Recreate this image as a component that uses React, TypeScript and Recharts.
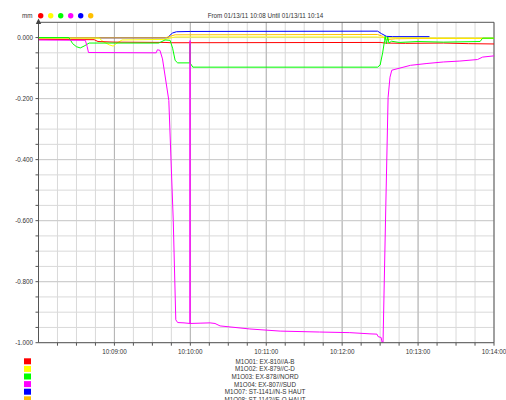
import React from 'react';
import { LineChart, Line, XAxis, YAxis, CartesianGrid, ReferenceLine } from 'recharts';

const TITLE = 'From 01/13/11 10:08 Until 01/13/11 10:14';
const UNIT = 'mm';

const SERIES_NAMES = [
  'M1O01: EX-810//A-B',
  'M1O02: EX-879//C-D',
  'M1O03: EX-878//NORD',
  'M1O04: EX-807//SUD',
  'M1O07: ST-1141//N-S HAUT',
  'M1O08: ST-1142//E-O HAUT',
];
const SERIES_COLORS = ['#ff0000', '#ffff00', '#00ff00', '#ff00ff', '#0000ff', '#ffc000'];

// time in seconds after 10:08:00
const T_RED = [0, 44, 47, 60, 100, 105, 270, 274, 290, 320, 340, 360];
const V_RED = [-0.006, -0.007, -0.013, -0.015, -0.016, -0.017, -0.016, -0.018, -0.019, -0.018, -0.02, -0.021];

const T_YELLOW = [0, 48, 51, 56, 59, 62, 66, 100, 104, 108, 268, 274, 360];
const V_YELLOW = [-0.002, -0.002, -0.013, -0.024, -0.028, -0.018, -0.008, -0.006, -0.002, 0.002, 0.002, -0.001, -0.002];

const T_GREEN = [0, 24, 27, 30, 33, 36, 40, 95, 100, 104, 106, 108, 110, 119.74, 119.76, 119.78, 122, 268, 270, 272, 273.5, 274, 275, 276, 277, 279, 285, 300, 320, 349, 351, 360];
const V_GREEN = [0, 0, -0.02, -0.03, -0.034, -0.028, -0.018, -0.018, -0.008, -0.009, -0.035, -0.075, -0.083, -0.083, -0.02, -0.083, -0.097, -0.097, -0.09, -0.05, -0.01, 0.005, -0.02, 0.002, -0.018, -0.012, -0.016, -0.013, -0.015, -0.013, -0.002, -0.002];

const T_MAGENTA = [0, 37, 38.5, 39.5, 93, 94, 96, 98, 103, 106.5, 108.5, 110, 115, 119.74, 119.76, 119.78, 127.7, 135.6, 139.5, 143.5, 167, 191, 222, 246, 262, 267.5, 268.4, 270.8, 271.5, 272.3, 274.5, 276.3, 277.8, 279.2, 281, 294, 307, 320, 333, 347, 351, 360];
const V_MAGENTA = [-0.008, -0.009, -0.03, -0.049, -0.05, -0.04, -0.042, -0.07, -0.206, -0.6, -0.925, -0.934, -0.935, -0.937, -0.01, -0.937, -0.936, -0.935, -0.937, -0.945, -0.955, -0.962, -0.965, -0.967, -0.971, -0.972, -0.98, -0.983, -0.998, -0.998, -0.55, -0.196, -0.13, -0.107, -0.105, -0.091, -0.085, -0.08, -0.077, -0.072, -0.064, -0.06];

const T_BLUE = [0, 100, 102, 104, 106, 109, 120, 268, 271, 275, 280, 309];
const V_BLUE = [-0.001, -0.001, -0.001, 0.008, 0.015, 0.019, 0.02, 0.021, 0.013, 0.004, 0.003, 0.003];

const T_ORANGE = [0, 100, 104, 108, 268, 272, 275, 282, 300, 360];
const V_ORANGE = [-0.001, -0.001, 0.004, 0.009, 0.01, 0.004, -0.007, -0.004, -0.003, -0.003];

const X_TICKS = Array.from({ length: 24 }, (_, i) => (i + 1) * 15);
const X_LABELS: Record<number, string> = { 60: '10:09:00', 120: '10:10:00', 180: '10:11:00', 240: '10:12:00', 300: '10:13:00', 360: '10:14:00' };
const Y_TICKS = Array.from({ length: 21 }, (_, i) => Math.round(-i * 5) / 100);
const Y_MAJOR = [0, -0.2, -0.4, -0.6, -0.8];
const X_MAJOR = [60, 120, 180, 240, 300];

const zip = (t: number[], v: number[]) => t.map((x, i) => ({ t: x, v: v[i] }));

const series = [
  { key: 'blue', data: zip(T_BLUE, V_BLUE), color: SERIES_COLORS[4] },
  { key: 'orange', data: zip(T_ORANGE, V_ORANGE), color: SERIES_COLORS[5] },
  { key: 'yellow', data: zip(T_YELLOW, V_YELLOW), color: SERIES_COLORS[1] },
  { key: 'red', data: zip(T_RED, V_RED), color: SERIES_COLORS[0] },
  { key: 'green', data: zip(T_GREEN, V_GREEN), color: SERIES_COLORS[2] },
  { key: 'magenta', data: zip(T_MAGENTA, V_MAGENTA), color: SERIES_COLORS[3] },
];

const FONT = '"Liberation Sans", Arial, sans-serif';
const FS = 6.3;

const fmtY = (v: number) => {
  const r = Math.round(v * 1000) / 1000;
  if (Math.abs(Math.round(r * 1000) % 200) !== 0) return '';
  return r === 0 ? '0.000' : r.toFixed(3);
};

export default function App() {
  return (
    <div style={{ position: 'absolute', left: 0, top: 0, width: 506, height: 400, background: '#fff', overflow: 'hidden' }}>
      <LineChart width={506} height={358} margin={{ top: 22.3, right: 12, bottom: 0, left: 0.5 }}>
        <CartesianGrid stroke="#d9d9d9" strokeWidth={1} horizontalValues={Y_TICKS} verticalValues={X_TICKS} />
        {X_MAJOR.map((x) => (
          <ReferenceLine key={'xm' + x} x={x} stroke="#b4b4b4" strokeWidth={1} />
        ))}
        {Y_MAJOR.map((y) => (
          <ReferenceLine key={'ym' + y} y={y} stroke="#cccccc" strokeWidth={1} />
        ))}
        <ReferenceLine y={0.05} stroke="#555" strokeWidth={1} />
        <ReferenceLine x={360} stroke="#555" strokeWidth={1} />
        <XAxis
          dataKey="t"
          type="number"
          domain={[0, 360]}
          ticks={X_TICKS}
          tickFormatter={(v: number) => X_LABELS[v] || ''}
          interval={0}
          height={15.3}
          tickSize={3}
          tickMargin={4}
          stroke="#555"
          tick={{ fill: '#333', fontSize: FS, fontFamily: FONT }}
          allowDataOverflow
        />
        <YAxis
          type="number"
          domain={[-1, 0.05]}
          ticks={Y_TICKS}
          tickFormatter={fmtY}
          interval={0}
          width={38}
          tickSize={3}
          tickMargin={2.5}
          stroke="#555"
          tick={{ fill: '#333', fontSize: FS, fontFamily: FONT }}
          allowDataOverflow
        />
        {series.map((s) => (
          <Line
            key={s.key}
            data={s.data}
            dataKey="v"
            type="linear"
            stroke={s.color}
            strokeWidth={1}
            dot={false}
            activeDot={false}
            isAnimationActive={false}
          />
        ))}
      </LineChart>
      <svg width={506} height={400} style={{ position: 'absolute', left: 0, top: 0, pointerEvents: 'none' }}>
        <text x={265.5} y={15.5} fontSize={FS} fontFamily={FONT} fill="#333" textAnchor="middle" dominantBaseline="central">
          {TITLE}
        </text>
        <text x={22} y={15.5} fontSize={FS} fontFamily={FONT} fill="#333" dominantBaseline="central">
          {UNIT}
        </text>
        {SERIES_COLORS.map((c, i) => (
          <circle key={c} cx={40.7 + i * 10} cy={15.7} r={2.7} fill={c} />
        ))}
        <polygon points="38.5,18.5 35.8,24 41.2,24" fill="#444" />
        {SERIES_NAMES.map((n, i) => (
          <g key={n}>
            <rect x={24} y={358.3 + i * 7.6} width={7} height={6} fill={SERIES_COLORS[i]} />
            <text x={265} y={361.3 + i * 7.6} fontSize={FS} fontFamily={FONT} fill="#333" textAnchor="middle" dominantBaseline="central">
              {n}
            </text>
          </g>
        ))}
      </svg>
    </div>
  );
}
